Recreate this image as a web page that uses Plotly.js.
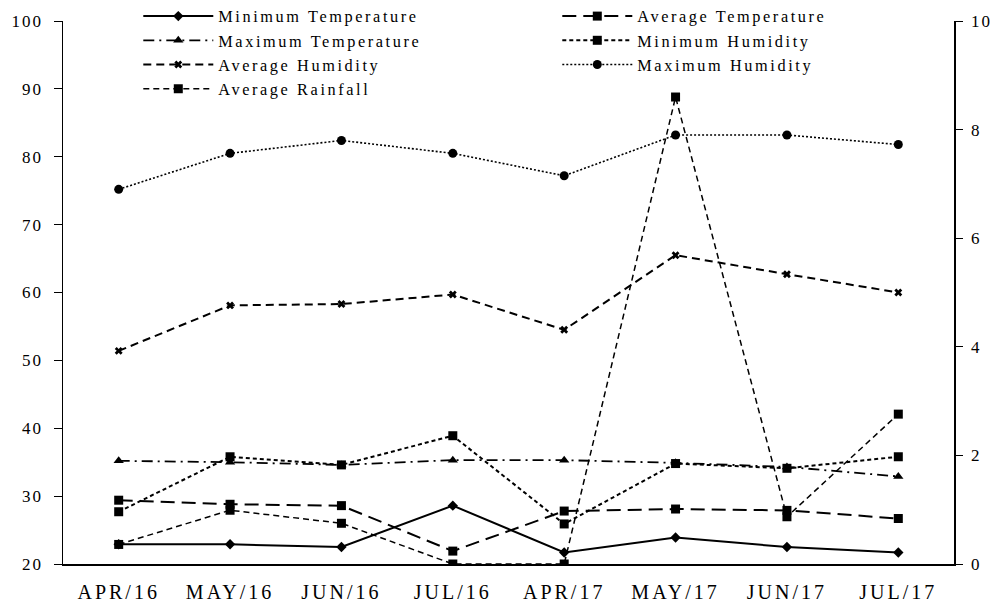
<!DOCTYPE html>
<html>
<head>
<meta charset="utf-8">
<script src="https://cdn.plot.ly/plotly-3.0.1.min.js"></script>
<style>html,body{margin:0;padding:0;background:#fff}#chart{width:994px;height:603px}</style>
</head>
<body>
<div id="chart"></div>
<script>
const months = ["APR/16", "MAY/16", "JUN/16", "JUL/16", "APR/17", "MAY/17", "JUN/17", "JUL/17"];
const minTemp = [22.9, 22.9, 22.5, 28.6, 21.7, 23.9, 22.5, 21.7];
const avgTemp = [29.4, 28.8, 28.6, 21.9, 27.8, 28.1, 27.9, 26.7];
const maxTemp = [35.2, 35.0, 34.6, 35.3, 35.3, 34.9, 34.3, 32.9];
const minHumidity = [27.7, 35.8, 34.6, 38.9, 25.9, 34.8, 34.1, 35.8];
const avgHumidity = [51.4, 58.1, 58.3, 59.7, 54.5, 65.5, 62.7, 60.0];
const maxHumidity = [75.2, 80.5, 82.4, 80.5, 77.2, 83.2, 83.2, 81.8];
const avgRainfall = [0.36, 0.99, 0.75, 0.0, 0.0, 8.6, 0.87, 2.76];

const FONT = "Liberation Serif, 'Times New Roman', serif";
function tr(name, y, dash, width, symbol, size, axis) {
  return {
    type: "scatter", mode: "lines+markers", name: name, x: months, y: y,
    yaxis: axis || "y",
    line: {color: "#000", width: width, dash: dash},
    marker: {color: "#000", symbol: symbol, size: size}
  };
}
const data = [
  tr("Minimum Temperature", minTemp, "solid", 2, "diamond", 8),
  tr("Average Temperature", avgTemp, "14px,7px", 2, "square", 9),
  tr("Maximum Temperature", maxTemp, "11px,5px,2px,5px", 1.8, "triangle-up", 9),
  tr("Minimum Humidity", minHumidity, "4px,3px", 2, "square", 9),
  tr("Average Humidity", avgHumidity, "8px,5px", 2, "x", 7),
  tr("Maximum Humidity", maxHumidity, "2px,2px", 1.6, "circle", 9),
  tr("Average Rainfall", avgRainfall, "6px,4px", 1.5, "square", 9, "y2")
];
const layout = {
  width: 994, height: 603,
  margin: {l: 63, r: 40, t: 21, b: 39, autoexpand: false},
  paper_bgcolor: "#fff", plot_bgcolor: "#fff",
  font: {family: FONT, color: "#000", size: 17},
  showlegend: true,
  legend: {
    orientation: "h", x: 0.0845, xanchor: "left", y: 1.0405, yanchor: "top",
    entrywidth: 334, entrywidthmode: "pixels", itemwidth: 70,
    bgcolor: "rgba(0,0,0,0)", font: {family: FONT, size: 16.3, color: "#000"},
    tracegroupgap: 0, traceorder: "normal"
  },
  xaxis: {
    type: "category", range: [-0.5, 7.5], showline: true, linecolor: "#000", linewidth: 1.5,
    ticks: "", showgrid: false, zeroline: false,
    tickfont: {family: FONT, size: 20, color: "#000"}, ticklabelstandoff: 9
  },
  yaxis: {
    range: [20, 100], dtick: 10, tick0: 20, showline: true, linecolor: "#000", linewidth: 1.5,
    ticks: "outside", ticklen: 8, tickcolor: "#000", tickwidth: 1,
    showgrid: false, zeroline: false, ticklabelstandoff: 7,
    tickfont: {family: FONT, size: 17, color: "#000"}
  },
  yaxis2: {
    overlaying: "y", side: "right", range: [0, 10], dtick: 2, tick0: 0,
    showline: true, linecolor: "#000", linewidth: 1.5,
    ticks: "outside", ticklen: 7, tickcolor: "#000", tickwidth: 1,
    showgrid: false, zeroline: false, ticklabelstandoff: 5,
    tickfont: {family: FONT, size: 17, color: "#000"}
  }
};
Plotly.newPlot("chart", data, layout, {displayModeBar: false, staticPlot: true}).then(function () {
  document.querySelectorAll("#chart .legendtext").forEach(function (t) { t.style.letterSpacing = "2.6px"; });
  document.querySelectorAll("#chart .xtick text").forEach(function (t) { t.style.letterSpacing = "3px"; });
  document.querySelectorAll("#chart .ytick text, #chart .y2tick text").forEach(function (t) { t.style.letterSpacing = "2px"; });
});
</script>
</body>
</html>
